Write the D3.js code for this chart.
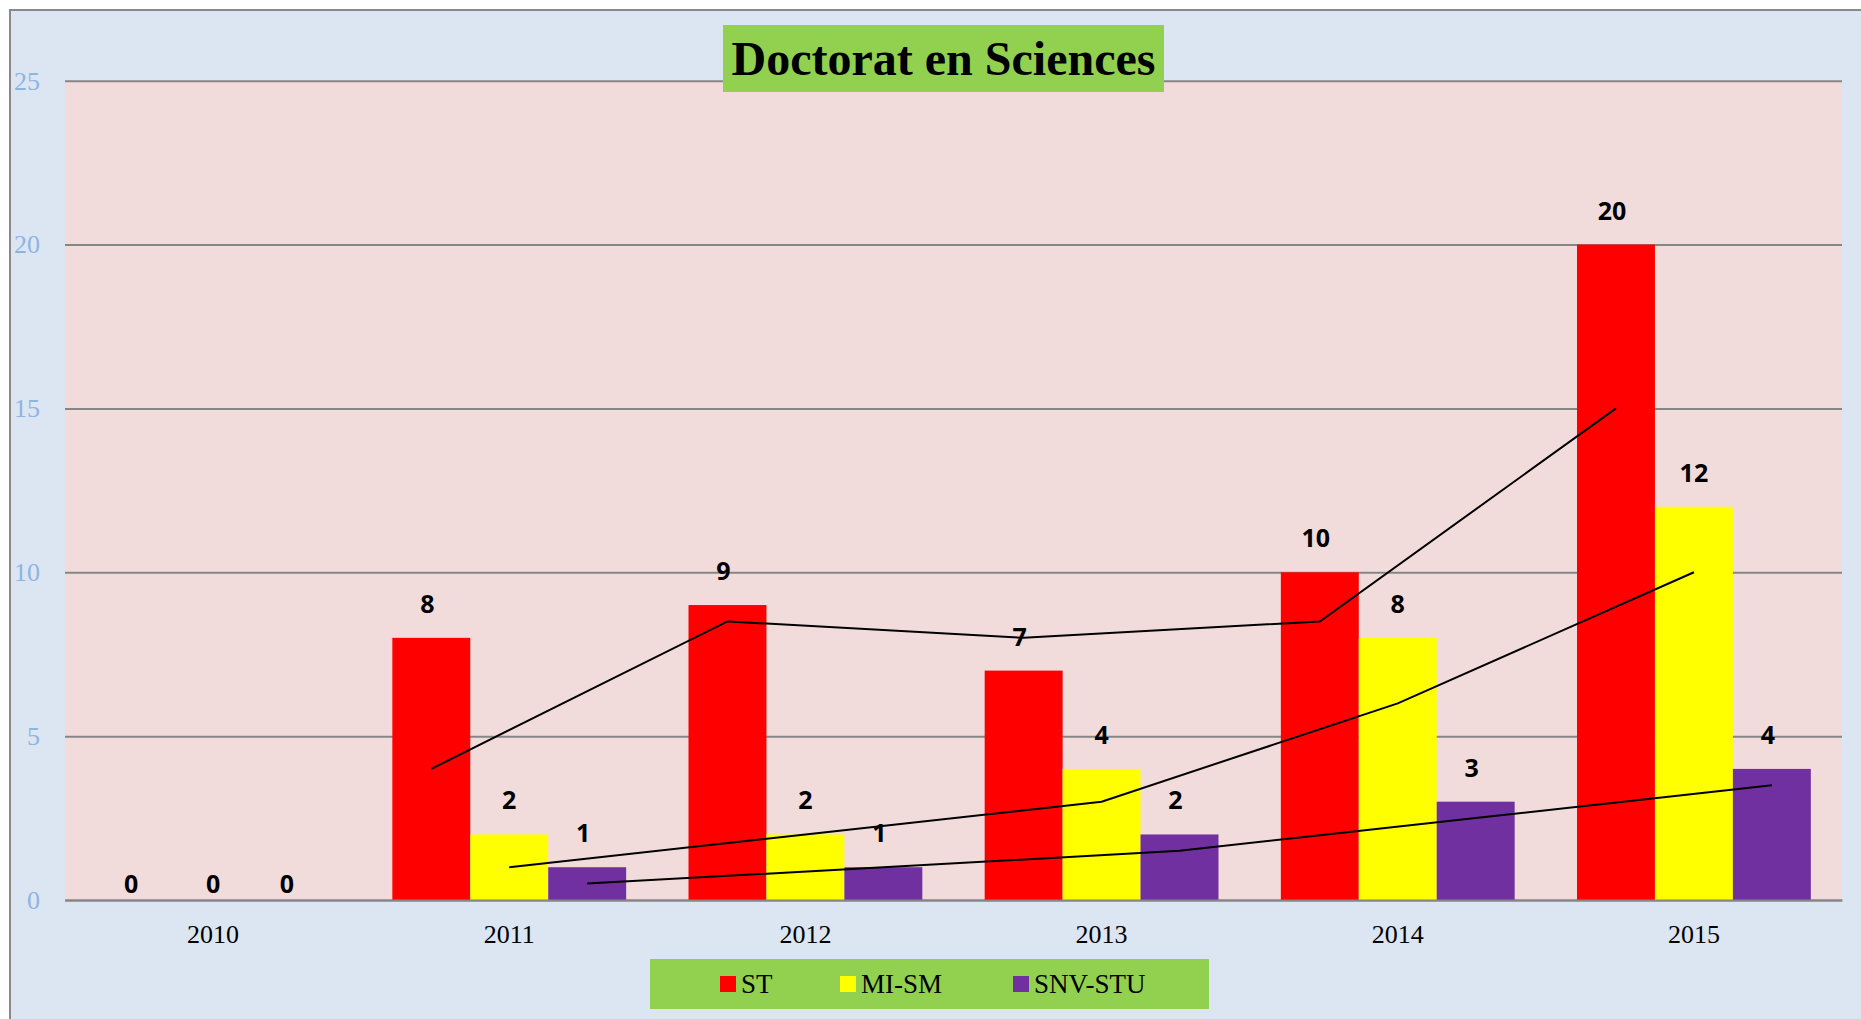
<!DOCTYPE html>
<html>
<head>
<meta charset="utf-8">
<script src="https://cdn.jsdelivr.net/npm/d3@7"></script>
<style>
  html, body { margin: 0; padding: 0; background: #ffffff; }
  svg { display: block; }
</style>
</head>
<body>
<div id="chart"></div>
<script>
var years = ['2010', '2011', '2012', '2013', '2014', '2015'];
var series = ['ST', 'MI-SM', 'SNV-STU'];

var stValues = [0, 8, 9, 7, 10, 20];
var mismValues = [0, 2, 2, 4, 8, 12];
var snvValues = [0, 1, 1, 2, 3, 4];

// trend lines (2-period moving average), 2011..2015
var trendYears = ['2011', '2012', '2013', '2014', '2015'];
var stTrend = [4, 8.5, 8, 8.5, 15];
var mismTrend = [1, 2, 3, 6, 10];
var snvTrend = [0.5, 1, 1.5, 2.5, 3.5];

var yTicks = [0, 5, 10, 15, 20, 25];
var chartTitle = 'Doctorat en Sciences';

var colors = {
  'ST': '#ff0000',
  'MI-SM': '#ffff00',
  'SNV-STU': '#7030a0'
};

// labels sit a little left of the bar centre, except the yellow ones
var labelShift = {
  'ST': -4,
  'MI-SM': 0,
  'SNV-STU': -4
};

var width = 1861;
var height = 1019;
var margin = {
  top: 80.7,
  right: 19,
  bottom: 119,
  left: 65
};

var rows = years.map(function (year, i) {
  return {
    year: year,
    values: [
      { key: 'ST', value: stValues[i] },
      { key: 'MI-SM', value: mismValues[i] },
      { key: 'SNV-STU', value: snvValues[i] }
    ]
  };
});

var trends = [
  { key: 'ST', values: stTrend },
  { key: 'MI-SM', values: mismTrend },
  { key: 'SNV-STU', values: snvTrend }
];

var svg = d3.select('#chart').append('svg')
  .attr('width', width)
  .attr('height', height);

// outer chart area
svg.append('rect')
  .attr('x', 10)
  .attr('y', 10)
  .attr('width', width + 20)
  .attr('height', height + 20)
  .attr('fill', '#dce6f2')
  .attr('stroke', '#898989')
  .attr('stroke-width', 2);

var x0 = d3.scaleBand()
  .domain(years)
  .range([margin.left, width - margin.right])
  .paddingInner(0)
  .paddingOuter(0);

var x1 = d3.scaleBand()
  .domain(series)
  .range([0, x0.bandwidth()])
  .paddingInner(0)
  .paddingOuter(0.4);

var y = d3.scaleLinear()
  .domain([0, 25])
  .range([height - margin.bottom, margin.top]);

// plot area
svg.append('rect')
  .attr('x', margin.left)
  .attr('y', y(25))
  .attr('width', x0.range()[1] - x0.range()[0])
  .attr('height', y(0) - y(25))
  .attr('fill', '#f2dcdb');

var yAxis = svg.append('g')
  .attr('class', 'y-axis')
  .attr('transform', 'translate(' + margin.left + ',0)')
  .call(d3.axisLeft(y)
    .tickValues(yTicks)
    .tickSize(-(x0.range()[1] - x0.range()[0]))
    .tickPadding(25));

yAxis.select('.domain').remove();
yAxis.selectAll('.tick line')
  .attr('stroke', '#868686')
  .attr('stroke-width', 2);
yAxis.selectAll('.tick text')
  .attr('fill', '#8eb4e3')
  .attr('font-family', '"Liberation Serif", "Times New Roman", serif')
  .attr('font-size', 26);

// bars
var groups = svg.append('g')
  .attr('class', 'bars')
  .selectAll('g')
  .data(rows)
  .enter()
  .append('g')
  .attr('transform', function (d) {
    return 'translate(' + x0(d.year) + ',0)';
  });

groups.selectAll('rect')
  .data(function (d) { return d.values; })
  .enter()
  .append('rect')
  .attr('x', function (d) { return x1(d.key); })
  .attr('y', function (d) { return y(d.value); })
  .attr('width', x1.bandwidth())
  .attr('height', function (d) { return y(0) - y(d.value); })
  .attr('fill', function (d) { return colors[d.key]; });

// x axis
var xAxis = svg.append('g')
  .attr('class', 'x-axis')
  .attr('transform', 'translate(0,' + y(0) + ')')
  .call(d3.axisBottom(x0)
    .tickSize(0)
    .tickSizeOuter(0)
    .tickPadding(24.5));

xAxis.select('.domain')
  .attr('stroke', '#868686')
  .attr('stroke-width', 2);
xAxis.selectAll('.tick text')
  .attr('fill', '#000')
  .attr('font-family', '"Liberation Serif", "Times New Roman", serif')
  .attr('font-size', 26);

// trend lines
var line = d3.line()
  .x(function (d) { return x0(d.year) + x1(d.key) + x1.bandwidth() / 2; })
  .y(function (d) { return y(d.value); });

svg.append('g')
  .attr('class', 'trends')
  .selectAll('path')
  .data(trends)
  .enter()
  .append('path')
  .attr('fill', 'none')
  .attr('stroke', '#000')
  .attr('stroke-width', 2)
  .attr('d', function (t) {
    return line(t.values.map(function (v, i) {
      return { year: trendYears[i], key: t.key, value: v };
    }));
  });

// data labels
groups.selectAll('text')
  .data(function (d) { return d.values; })
  .enter()
  .append('text')
  .attr('x', function (d) { return x1(d.key) + x1.bandwidth() / 2 + labelShift[d.key]; })
  .attr('y', function (d) { return y(d.value) - (d.value === 0 ? 7 : 25); })
  .attr('text-anchor', 'middle')
  .attr('font-family', '"Open Sans", "Noto Sans", sans-serif')
  .attr('font-weight', 700)
  .attr('font-size', 25)
  .attr('fill', '#000')
  .text(function (d) { return d.value; });

// title
var titleG = svg.append('g').attr('class', 'title');
titleG.append('rect')
  .attr('x', 723)
  .attr('y', 25)
  .attr('width', 441)
  .attr('height', 67)
  .attr('fill', '#92d050');
titleG.append('text')
  .attr('x', 943.5)
  .attr('y', 75)
  .attr('text-anchor', 'middle')
  .attr('font-family', '"Liberation Serif", "Times New Roman", serif')
  .attr('font-weight', 700)
  .attr('font-size', 48)
  .attr('fill', '#000')
  .text(chartTitle);

// legend
var legend = svg.append('g').attr('class', 'legend');
legend.append('rect')
  .attr('x', 650)
  .attr('y', 959)
  .attr('width', 559)
  .attr('height', 50)
  .attr('fill', '#92d050');

var legendX = d3.scaleOrdinal()
  .domain(series)
  .range([720, 840, 1013]);

var item = legend.selectAll('.item')
  .data(series)
  .enter()
  .append('g')
  .attr('class', 'item')
  .attr('transform', function (d) {
    return 'translate(' + legendX(d) + ',0)';
  });

item.append('rect')
  .attr('x', 0)
  .attr('y', 976)
  .attr('width', 16)
  .attr('height', 16)
  .attr('fill', function (d) { return colors[d]; });

item.append('text')
  .attr('x', 21)
  .attr('y', 993)
  .attr('font-family', '"Liberation Serif", "Times New Roman", serif')
  .attr('font-size', 27)
  .attr('fill', '#000')
  .text(function (d) { return d; });
</script>
</body>
</html>
